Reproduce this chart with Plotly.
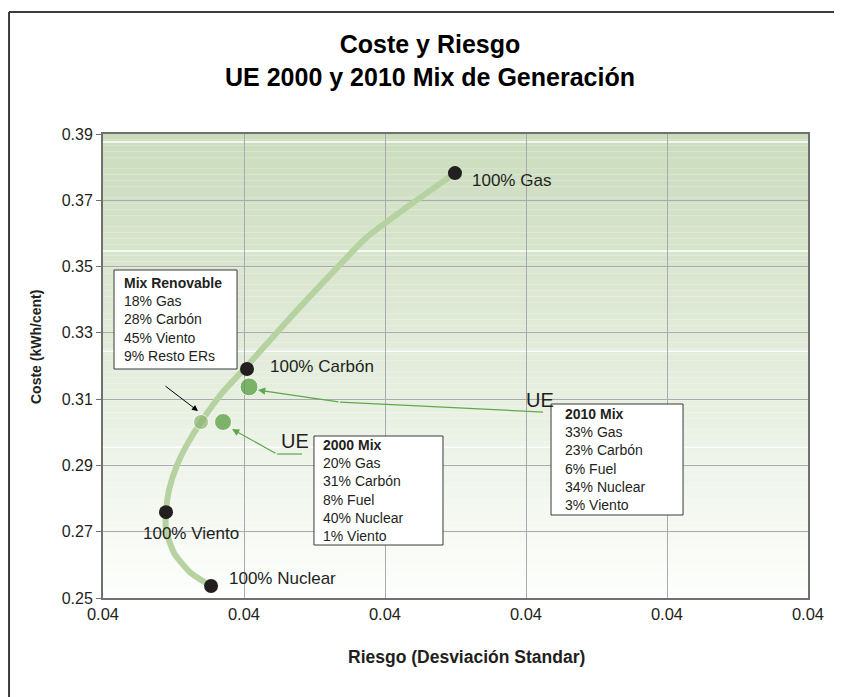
import plotly.graph_objects as go

# curve of efficient mixes (risk, cost)
frontier_risk = [0.037226, 0.036987, 0.036806, 0.036715, 0.036715, 0.036749, 0.036840, 0.036965,
                 0.037112, 0.037350, 0.037634, 0.038122, 0.038655, 0.038996, 0.039484, 0.039994]
frontier_cost = [0.2536, 0.2578, 0.2636, 0.2705, 0.2759, 0.2826, 0.2901, 0.2968,
                 0.3031, 0.3118, 0.3200, 0.3345, 0.3496, 0.3589, 0.3686, 0.3782]

# single technology portfolios
tech_names = ["100% Gas", "100% Carbón", "100% Viento", "100% Nuclear"]
tech_risk = [0.039994, 0.037634, 0.036715, 0.037226]
tech_cost = [0.3782, 0.3191, 0.2759, 0.2536]

# mixes
mix_names = ["Mix Renovable", "2000 Mix", "2010 Mix"]
mix_risk = [0.037112, 0.037362, 0.037657]
mix_cost = [0.3031, 0.3031, 0.3137]
mix_lines = [
    ["18% Gas", "28% Carbón", "45% Viento", "9% Resto ERs"],
    ["20% Gas", "31% Carbón", "8% Fuel", "40% Nuclear", "1% Viento"],
    ["33% Gas", "23% Carbón", "6% Fuel", "34% Nuclear", "3% Viento"],
]

x_ticks = [0.036, 0.0376, 0.0392, 0.0408, 0.0424, 0.044]
y_ticks = [0.25, 0.27, 0.29, 0.31, 0.33, 0.35, 0.37, 0.39]

FONT = "Liberation Sans, Arial, sans-serif"
DARK = "#231f20"
GREEN = "#5fa84a"

fig = go.Figure()

# background gradient (green at top, white at bottom)
top_rgb = (203, 220, 189)
bot_rgb = (253, 254, 252)
n_bands = 80
for i in range(n_bands):
    t = i / (n_bands - 1)
    c = tuple(round(bot_rgb[k] + (top_rgb[k] - bot_rgb[k]) * t) for k in range(3))
    fig.add_shape(type="rect", xref="x domain", yref="y domain",
                  x0=0, x1=1, y0=i / n_bands, y1=(i + 1) / n_bands,
                  fillcolor="rgb(%d,%d,%d)" % c, line_width=0, layer="below")
for yy in [0.983, 0.748, 0.532, 0.325]:
    fig.add_shape(type="line", xref="x domain", yref="y domain",
                  x0=0, x1=1, y0=yy, y1=yy, line=dict(color="white", width=1.5), layer="below")

fig.add_trace(go.Scatter(
    x=frontier_risk, y=frontier_cost, mode="lines",
    line=dict(color="#b5d2a0", width=6, shape="spline", smoothing=0.6),
    hoverinfo="skip", showlegend=False
))

fig.add_trace(go.Scatter(
    x=tech_risk, y=tech_cost, mode="markers",
    marker=dict(size=14, color=DARK),
    text=tech_names, hoverinfo="text", showlegend=False
))

fig.add_trace(go.Scatter(
    x=mix_risk, y=mix_cost, mode="markers",
    marker=dict(size=[15, 17, 18], color=["#8bb46f", "#4d9a35", "#4d9a35"]),
    text=mix_names, hoverinfo="text", showlegend=False
))

# point labels
label_pos = [(0.040165, 0.3761), (0.037872, 0.3197), (0.036431, 0.2696), (0.037407, 0.2560)]
for name, (lx, ly) in zip(tech_names, label_pos):
    fig.add_annotation(x=lx, y=ly, text=name, showarrow=False, xanchor="left",
                       font=dict(family=FONT, size=17, color=DARK))

fig.add_annotation(x=0.040777, y=0.3097, text="UE", showarrow=False, xanchor="left",
                   font=dict(family=FONT, size=20, color=DARK))
fig.add_annotation(x=0.037997, y=0.2974, text="UE", showarrow=False, xanchor="left",
                   font=dict(family=FONT, size=20, color=DARK))

# info boxes: (x0, x1, top, bottom) and text x offset in px
box_rects = [(0.036125, 0.037521, 0.348966, 0.319095),
             (0.038394, 0.039858, 0.298879, 0.265991),
             (0.041084, 0.042582, 0.308535, 0.275043)]
box_text_dx = [8, 7, 12]
for name, lines, (x0, x1, top, bot), dx in zip(mix_names, mix_lines, box_rects, box_text_dx):
    fig.add_shape(type="rect", x0=x0, x1=x1, y0=bot, y1=top,
                  fillcolor="white", line=dict(color="#3a3a3a", width=1))
    fig.add_annotation(x=x0, y=(top + bot) / 2, xanchor="left", yanchor="middle", showarrow=False,
                       xshift=dx, align="left",
                       text="<b>%s</b><br>%s" % (name, "<br>".join(lines)),
                       font=dict(family=FONT, size=14, color=DARK))

# arrows
fig.add_annotation(x=0.037078, y=0.30641, ax=0.036692, ay=0.31426, axref="x", ayref="y",
                   showarrow=True, arrowhead=2, arrowsize=1.2, arrowwidth=1, arrowcolor="black", text="")
fig.add_shape(type="line", x0=0.040993, y0=0.30611, x1=0.038689, y1=0.30913,
              line=dict(color=GREEN, width=1.2))
fig.add_annotation(x=0.037759, y=0.31275, ax=0.038689, ay=0.30913, axref="x", ayref="y",
                   showarrow=True, arrowhead=2, arrowsize=1.2, arrowwidth=1.2, arrowcolor=GREEN, text="")
fig.add_shape(type="line", x0=0.038258, y0=0.29344, x1=0.037974, y1=0.29344,
              line=dict(color=GREEN, width=1.2))
fig.add_annotation(x=0.037464, y=0.30098, ax=0.037974, ay=0.29344, axref="x", ayref="y",
                   showarrow=True, arrowhead=2, arrowsize=1.2, arrowwidth=1.2, arrowcolor=GREEN, text="")

# title
fig.add_annotation(xref="paper", yref="paper", x=0.4638, y=1.159, showarrow=False,
                   text="<b>Coste y Riesgo<br>UE 2000 y 2010 Mix de Generación</b>",
                   font=dict(family=FONT, size=25, color="black"), xanchor="center", yanchor="middle")

# axis titles
fig.add_annotation(xref="paper", yref="paper", x=0.5163, y=-0.127, showarrow=False,
                   xanchor="center", yanchor="middle",
                   text="<b>Riesgo (Desviación Standar)</b>",
                   font=dict(family=FONT, size=17.5, color=DARK))
fig.add_annotation(xref="paper", yref="paper", x=-0.095, y=0.541, showarrow=False,
                   xanchor="center", yanchor="middle",
                   text="<b>Coste (kWh/cent)</b>", textangle=-90,
                   font=dict(family=FONT, size=14, color=DARK))

# outer frame (top and left edges)
fig.add_shape(type="line", xref="paper", yref="paper", x0=-0.1333, x1=1.1, y0=1.263, y1=1.263,
              line=dict(color="#3c3c3c", width=2))
fig.add_shape(type="line", xref="paper", yref="paper", x0=-0.1333, x1=-0.1333, y0=-0.3, y1=1.263,
              line=dict(color="#3c3c3c", width=2))

fig.update_layout(
    width=834, height=689,
    margin=dict(l=95, r=34, t=126, b=99),
    paper_bgcolor="white", plot_bgcolor="white",
    font=dict(family=FONT, color=DARK),
    xaxis=dict(
        range=[0.036, 0.044], tickvals=x_ticks, tickformat=".2f",
        showgrid=True, gridcolor="#a9a9b0", gridwidth=1,
        showline=True, linecolor="#707070", linewidth=2, mirror=True,
        zeroline=False, ticks="", tickfont=dict(size=16.5, color=DARK),
    ),
    yaxis=dict(
        range=[0.25, 0.39], tickvals=y_ticks, tickformat=".2f",
        showgrid=True, gridcolor="#a9a9b0", gridwidth=1,
        showline=True, linecolor="#707070", linewidth=2, mirror=True,
        zeroline=False, ticks="outside", ticklen=5, tickcolor="#707070",
        tickfont=dict(size=16, color=DARK),
    ),
)

fig.write_html("out.html")
